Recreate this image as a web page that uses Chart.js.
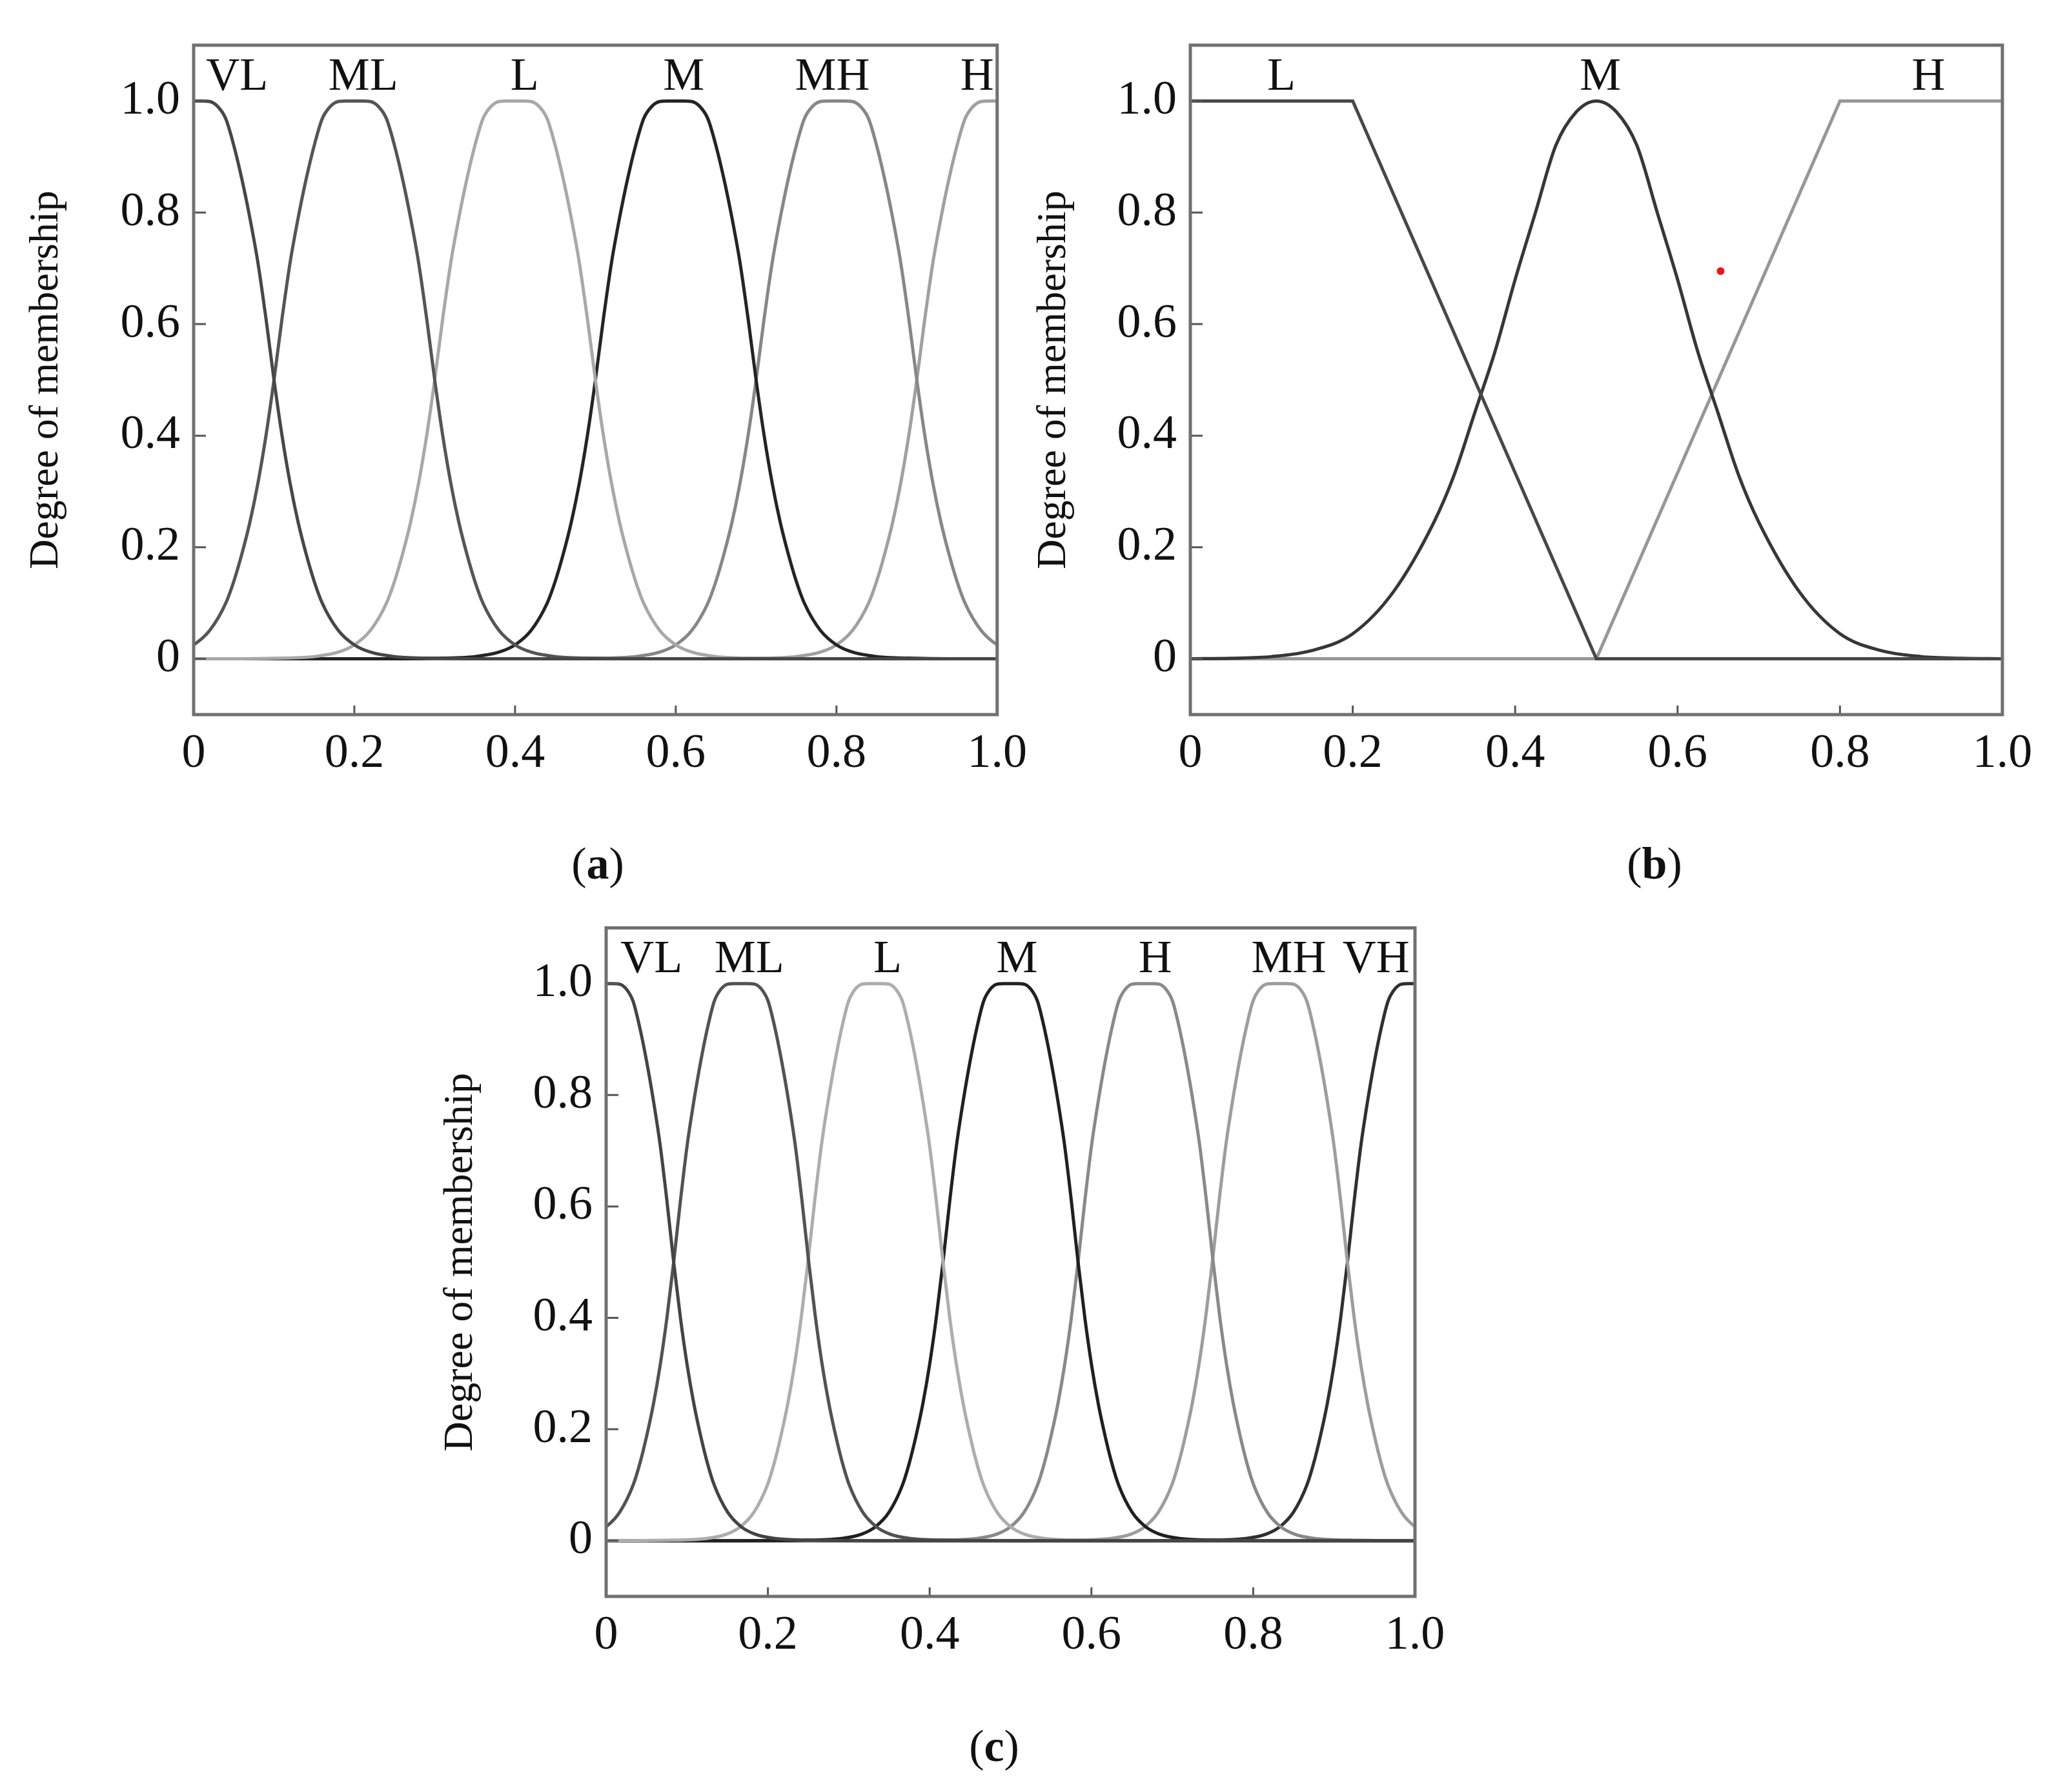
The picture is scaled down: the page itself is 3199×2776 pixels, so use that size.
<!DOCTYPE html>
<html>
<head>
<meta charset="utf-8">
<title>Degree of membership</title>
<script src="https://cdn.jsdelivr.net/npm/chart.js@4.4.1/dist/chart.umd.min.js"></script>
<style>
  html, body { margin: 0; padding: 0; background: #fff; }
  #page { position: relative; width: 3199px; height: 2776px; background: #fff; overflow: hidden; }
  canvas { position: absolute; }
  .cap {
    position: absolute;
    font-family: "Liberation Serif", "Times New Roman", serif;
    font-size: 70px;
    line-height: 1;
    color: #111;
    transform: translate(-50%, -50%);
    white-space: nowrap;
  }
</style>
</head>
<body>
<div id="page">
  <canvas id="chartA" width="1600" height="1250" style="left:0px;top:0px"></canvas>
  <canvas id="chartB" width="1639" height="1250" style="left:1560px;top:0px"></canvas>
  <canvas id="chartC" width="1700" height="1236" style="left:640px;top:1380px"></canvas>
  <div class="cap" style="left:926px;top:1338px">(<b>a</b>)</div>
  <div class="cap" style="left:2563px;top:1338px">(<b>b</b>)</div>
  <div class="cap" style="left:1540px;top:2705px">(<b>c</b>)</div>
</div>
<script>
// axis ticks (same on all three panels)
const xTicks = [0, 0.2, 0.4, 0.6, 0.8, 1.0];
const xTickLabels = ["0", "0.2", "0.4", "0.6", "0.8", "1.0"];
const yTicks = [0, 0.2, 0.4, 0.6, 0.8, 1.0];
const yTickLabels = ["0", "0.2", "0.4", "0.6", "0.8", "1.0"];
const axisTitle = "Degree of membership";

// bell shape: distance from the centre (in units of the
// spacing between neighbouring centres) -> degree of membership
const bellOffset = [0, 0.05, 0.1, 0.15, 0.2, 0.25, 0.3, 0.35, 0.4, 0.45, 0.5, 0.55, 0.6, 0.65, 0.7, 0.75, 0.8, 0.9, 1.0, 1.1, 1.25, 1.5, 2.0, 6.0];
const bellValue  = [1, 1, 0.999, 0.99, 0.968, 0.92, 0.86, 0.79, 0.71, 0.61, 0.5, 0.40, 0.315, 0.245, 0.188, 0.139, 0.10, 0.051, 0.025, 0.012, 0.004, 0.001, 0, 0];

// panel (a)
const namesA = ["VL", "ML", "L", "M", "MH", "H"];
const centersA = [0, 0.2, 0.4, 0.6, 0.8, 1.0];
const spacingA = 0.2;
const nameXA = [0.054, 0.211, 0.412, 0.61, 0.795, 0.975];

// panel (b)
const namesB = ["L", "M", "H"];
const nameXB = [0.112, 0.505, 0.909];
const bLowX = [0, 0.2, 0.5, 1.0];
const bLowY = [1, 1, 0, 0];
const bMidX = [0, 0.05, 0.1, 0.15, 0.2, 0.25, 0.3, 0.325, 0.35, 0.375, 0.4, 0.425, 0.45, 0.475, 0.5,
               0.525, 0.55, 0.575, 0.6, 0.625, 0.65, 0.675, 0.7, 0.75, 0.8, 0.85, 0.9, 0.95, 1.0];
const bMidY = [0, 0.001, 0.004, 0.015, 0.045, 0.12, 0.245, 0.33, 0.44, 0.55, 0.68, 0.80, 0.92, 0.98, 1,
               0.98, 0.92, 0.80, 0.68, 0.55, 0.44, 0.33, 0.245, 0.12, 0.045, 0.015, 0.004, 0.001, 0];
const bHighX = [0, 0.5, 0.8, 1.0];
const bHighY = [0, 0, 1, 1];
const redDotX = [0.653];
const redDotY = [0.695];

// panel (c)
const namesC = ["VL", "ML", "L", "M", "H", "MH", "VH"];
const centersC = [0, 0.167, 0.333, 0.5, 0.667, 0.833, 1.0];
const spacingC = 0.167;
const nameXC = [0.056, 0.177, 0.348, 0.508, 0.679, 0.844, 0.952];

// line greys
const colorsA = ["#474747", "#555555", "#a8a8a8", "#242424", "#878787", "#a0a0a0"];
const colorsB = ["#474747", "#373737", "#979797"];
const colorsC = ["#444444", "#525252", "#adadad", "#202020", "#898989", "#9d9d9d", "#303030"];

const FONT = '"Liberation Serif", "Times New Roman", serif';
const nameY = 1.02;
const LINE_W = 5;

function bellPoints(center, spacing) {
  let pts = [];
  for (let i = bellOffset.length - 1; i > 0; i--) {
    pts.push({ x: center - bellOffset[i] * spacing, y: bellValue[i] });
  }
  pts.push({ x: center, y: bellValue[0] });
  for (let i = 1; i < bellOffset.length; i++) {
    pts.push({ x: center + bellOffset[i] * spacing, y: bellValue[i] });
  }
  return pts;
}

function toPoints(xs, ys) {
  return xs.map((x, i) => ({ x: x, y: ys[i] }));
}

// frame, inward tick marks and the set names over the curves
function decorations(names, nameX) {
  return {
    id: "decorations",
    afterDraw(chart) {
      const ctx = chart.ctx;
      const a = chart.chartArea;
      const x = chart.scales.x;
      const y = chart.scales.y;
      ctx.save();
      ctx.strokeStyle = "#555";
      ctx.lineWidth = 3;
      ctx.beginPath();
      xTicks.forEach((v) => {
        const px = x.getPixelForValue(v);
        ctx.moveTo(px, a.bottom);
        ctx.lineTo(px, a.bottom - 14);
      });
      yTicks.forEach((v) => {
        const py = y.getPixelForValue(v);
        ctx.moveTo(a.left, py);
        ctx.lineTo(a.left + 19, py);
      });
      ctx.stroke();
      ctx.strokeStyle = "#707070";
      ctx.lineWidth = 5;
      ctx.strokeRect(a.left, a.top, a.right - a.left, a.bottom - a.top);
      ctx.fillStyle = "#111";
      ctx.font = "72px " + FONT;
      ctx.textAlign = "center";
      ctx.textBaseline = "alphabetic";
      names.forEach((n, i) => {
        ctx.fillText(n, x.getPixelForValue(nameX[i]), y.getPixelForValue(nameY));
      });
      ctx.restore();
    },
  };
}

function makeChart(id, datasets, names, nameX, box) {
  const ctx = document.getElementById(id);
  return new Chart(ctx, {
    type: "line",
    data: { datasets: datasets },
    options: {
      responsive: false,
      animation: false,
      devicePixelRatio: 1,
      events: [],
      layout: { padding: { top: box.top, right: box.right, bottom: 0, left: 0 } },
      elements: { point: { radius: 0 } },
      plugins: { legend: { display: false }, tooltip: { enabled: false } },
      scales: {
        x: {
          type: "linear",
          min: 0,
          max: 1,
          grid: { display: false },
          border: { display: false },
          afterBuildTicks: (s) => { s.ticks = xTicks.map((v) => ({ value: v })); },
          afterFit: (s) => { s.height = box.xHeight; },
          ticks: {
            callback: (v, i) => xTickLabels[i],
            font: { family: FONT, size: 74 },
            color: "#111",
            padding: 9,
            maxRotation: 0,
          },
        },
        y: {
          type: "linear",
          min: -0.1,
          max: 1.1,
          grid: { display: false },
          border: { display: false },
          afterBuildTicks: (s) => { s.ticks = yTicks.map((v) => ({ value: v })); },
          afterFit: (s) => { s.width = box.yWidth; },
          ticks: {
            callback: (v, i) => yTickLabels[i],
            font: { family: FONT, size: 74 },
            color: "#111",
            padding: 13,
          },
          title: {
            display: true,
            text: axisTitle,
            font: { family: FONT, size: 64 },
            color: "#111",
            padding: { top: box.titlePad, bottom: 0 },
          },
        },
      },
    },
    plugins: [decorations(names, nameX)],
  });
}

function bellSets(centers, spacing, colors) {
  return centers.map((c, i) => ({
    data: bellPoints(c, spacing),
    borderColor: colors[i],
    borderWidth: LINE_W,
    cubicInterpolationMode: "monotone",
    pointRadius: 0,
  }));
}

makeChart("chartA", bellSets(centersA, spacingA, colorsA), namesA, nameXA,
  { top: 70, right: 52, xHeight: 143, yWidth: 300, titlePad: 34 });

makeChart("chartB", [
  { data: toPoints(redDotX, redDotY), showLine: false, pointRadius: 6, pointBackgroundColor: "#e8141b", pointBorderWidth: 0 },
  { data: toPoints(bLowX, bLowY), borderColor: colorsB[0], borderWidth: LINE_W, tension: 0, pointRadius: 0 },
  { data: toPoints(bMidX, bMidY), borderColor: colorsB[1], borderWidth: LINE_W, cubicInterpolationMode: "monotone", pointRadius: 0 },
  { data: toPoints(bHighX, bHighY), borderColor: colorsB[2], borderWidth: LINE_W, tension: 0, pointRadius: 0 },
], namesB, nameXB,
  { top: 70, right: 97, xHeight: 143, yWidth: 284, titlePad: 35 });

makeChart("chartC", bellSets(centersC, spacingC, colorsC), namesC, nameXC,
  { top: 49, right: 148, xHeight: 143, yWidth: 299, titlePad: 36 });
</script>
</body>
</html>
